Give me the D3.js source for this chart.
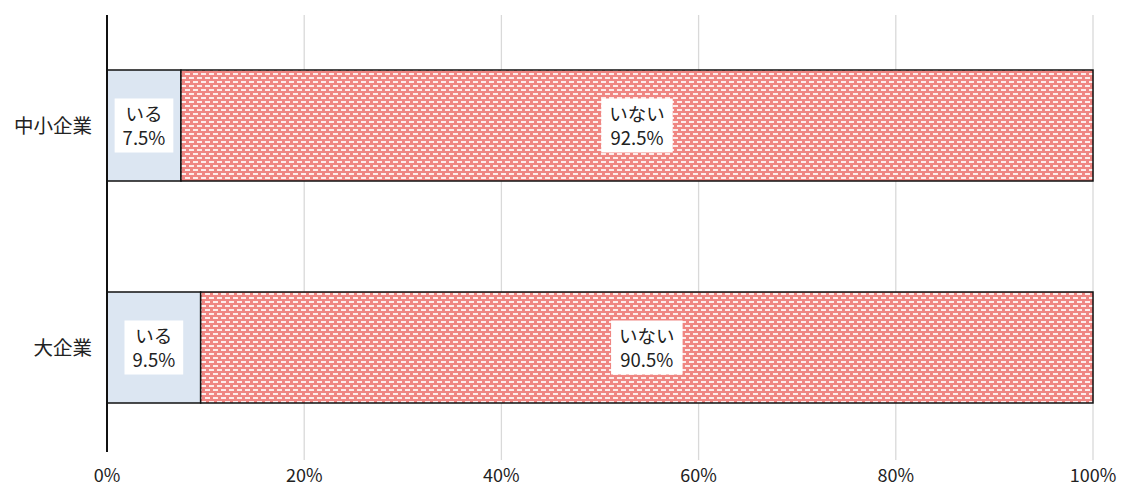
<!DOCTYPE html>
<html>
<head>
<meta charset="utf-8">
<script src="https://cdn.jsdelivr.net/npm/d3@7"></script>
<style>
  html, body { margin: 0; padding: 0; background: #fff; }
  svg { display: block; font-family: "Noto Sans CJK JP", "Noto Sans", sans-serif; }
</style>
</head>
<body>
<svg id="chart" width="1123" height="488"></svg>
<script>
const categories = ["中小企業", "大企業"];
const seriesNames = ["いる", "いない"];
const yesValues = [7.5, 9.5];
const noValues = [92.5, 90.5];
const tickValues = [0, 20, 40, 60, 80, 100];

const svg = d3.select("#chart");

const x = d3.scaleLinear().domain([0, 100]).range([107, 1093]);
const y = d3.scaleBand().domain(categories).range([14.5, 458.5]).paddingInner(0.5).paddingOuter(0.25);

// hatch pattern for the "いない" segments
const defs = svg.append("defs");
const pat = defs.append("pattern")
  .attr("id", "brick").attr("patternUnits", "userSpaceOnUse")
  .attr("width", 8).attr("height", 8);
pat.append("rect").attr("width", 8).attr("height", 8).attr("fill", "#ef8682");
pat.append("rect").attr("x", 1).attr("y", 1).attr("width", 5).attr("height", 2).attr("fill", "#fdeceb");
pat.append("rect").attr("x", 5).attr("y", 5).attr("width", 5).attr("height", 2).attr("fill", "#fdeceb");
pat.append("rect").attr("x", -3).attr("y", 5).attr("width", 5).attr("height", 2).attr("fill", "#fdeceb");

// gridlines
svg.append("g").selectAll("line").data(tickValues.slice(1)).join("line")
  .attr("x1", d => x(d)).attr("x2", d => x(d))
  .attr("y1", 15).attr("y2", 460)
  .attr("stroke", "#d9d9d9").attr("stroke-width", 1.3);

// x tick labels
svg.append("g").selectAll("text").data(tickValues).join("text")
  .attr("x", d => x(d)).attr("y", 482)
  .attr("text-anchor", "middle")
  .attr("font-size", 18).attr("fill", "#222")
  .text(d => d + "%");

const rows = categories.map((c, i) => ({ cat: c, yes: yesValues[i], no: noValues[i] }));

const g = svg.append("g");
rows.forEach(r => {
  const y0 = y(r.cat), bh = y.bandwidth();
  g.append("rect")
    .attr("x", x(0)).attr("y", y0).attr("width", x(r.yes) - x(0)).attr("height", bh)
    .attr("fill", "#dce6f2").attr("stroke", "#111").attr("stroke-width", 1.5);
  g.append("rect")
    .attr("x", x(r.yes)).attr("y", y0).attr("width", x(r.yes + r.no) - x(r.yes)).attr("height", bh)
    .attr("fill", "url(#brick)").attr("stroke", "#111").attr("stroke-width", 1.5);

  const segs = [
    { name: seriesNames[0], v: r.yes, cx: (x(0) + x(r.yes)) / 2 },
    { name: seriesNames[1], v: r.no, cx: (x(r.yes) + x(r.yes + r.no)) / 2 }
  ];
  segs.forEach(s => {
    const cy = y0 + bh / 2;
    const lbl = g.append("g");
    const bg = lbl.append("rect").attr("fill", "#fff");
    const t1 = lbl.append("text").attr("text-anchor", "middle").attr("font-size", 18.5).attr("fill", "#222")
      .attr("x", s.cx).attr("y", cy - 5).text(s.name);
    const t2 = lbl.append("text").attr("text-anchor", "middle").attr("font-size", 18.5).attr("fill", "#222")
      .attr("x", s.cx).attr("y", cy + 19).text(s.v.toFixed(1) + "%");
    const w = Math.max(t1.node().getBBox().width, t2.node().getBBox().width);
    bg.attr("x", s.cx - w / 2 - 8).attr("y", cy - 27).attr("width", w + 16).attr("height", 54);
  });
});

// category axis
svg.append("line").attr("x1", x(0)).attr("x2", x(0)).attr("y1", 15).attr("y2", 452)
  .attr("stroke", "#111").attr("stroke-width", 2);
svg.append("g").selectAll("text").data(categories).join("text")
  .attr("x", 92).attr("y", d => y(d) + y.bandwidth() / 2 + 7)
  .attr("text-anchor", "end").attr("font-size", 19.5).attr("fill", "#222")
  .text(d => d);
</script>
</body>
</html>
